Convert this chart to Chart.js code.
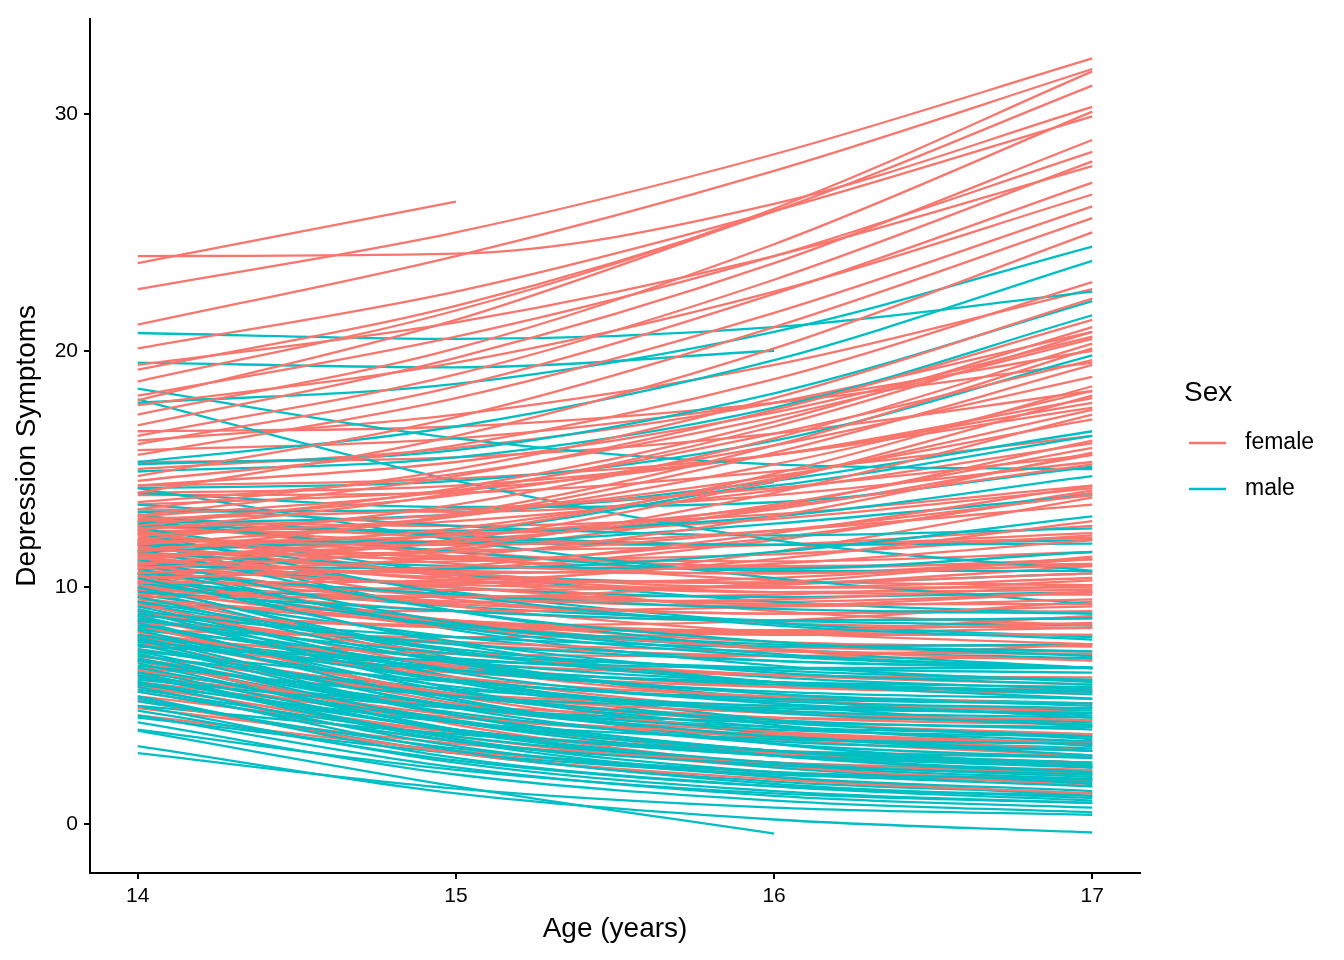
<!DOCTYPE html>
<html>
<head>
<meta charset="utf-8">
<script src="https://cdn.jsdelivr.net/npm/chart.js@4/dist/chart.umd.min.js"></script>
<style>
  html, body { margin: 0; padding: 0; background: #fff; }
  #wrap { width: 1344px; height: 960px; }
</style>
</head>
<body>
<div id="wrap"><canvas id="myChart" width="1344" height="960"></canvas></div>
<script>
const ages = [14, 15, 16, 17];
const xTicks = [14, 15, 16, 17];
const yTicks = [0, 10, 20, 30];
const sexLabels = ['female', 'male'];

// one row per girl: symptoms at 14, 15, 16, 17 (null = no estimate)
const femaleLines = [
  [23.7, 26.3, null, null],
  [24.0, 24.1, 26.2, 30.3],
  [22.6, 25.0, 28.3, 32.35],
  [21.1, 24.0, 27.6, 31.9],
  [18.7, 21.7, 26.0, 31.8],
  [19.2, 21.9, 25.9, 31.2],
  [17.3, 20.1, 24.5, 30.1],
  [20.1, 22.5, 25.9, 29.9],
  [16.85, 19.7, 23.7, 28.9],
  [18.1, 20.6, 24.0, 28.4],
  [16.4, 19.0, 23.0, 28.0],
  [19.4, 21.2, 24.0, 27.8],
  [16.05, 18.5, 22.4, 27.1],
  [17.7, 19.5, 22.5, 26.6],
  [15.6, 18.0, 21.6, 26.1],
  [14.7, 17.2, 21.0, 25.6],
  [14.0, 16.4, 20.1, 25.0],
  [17.9, 21.3, 25.9, null],
  [14.5, 16.0, 18.8, 22.9],
  [13.3, 15.0, 18.0, 22.2],
  [13.05, 14.7, 17.5, 21.3],
  [12.6, 14.2, 17.0, 21.0],
  [12.4, 14.0, 16.8, 20.8],
  [13.6, 14.8, 17.2, 20.5],
  [12.0, 13.5, 16.3, 20.3],
  [11.5, 13.1, 16.0, 20.1],
  [13.0, 14.1, 16.5, 19.6],
  [11.8, 13.0, 15.7, 19.4],
  [12.8, 13.9, 16.0, 18.9],
  [11.2, 12.3, 14.8, 18.5],
  [12.2, 13.0, 15.2, 18.3],
  [11.0, 12.0, 14.5, 18.1],
  [11.6, 12.5, 14.6, 17.5],
  [10.8, 11.7, 14.0, 17.3],
  [12.5, 13.1, 14.7, 17.1],
  [11.3, 11.9, 13.5, 15.9],
  [10.6, 11.3, 13.0, 15.7],
  [12.9, 13.3, 14.2, 15.6],
  [11.9, 12.2, 13.4, 15.2],
  [10.4, 10.9, 12.3, 14.3],
  [11.4, 11.5, 12.4, 13.9],
  [12.0, 11.8, 12.4, 13.5],
  [10.2, 10.3, 11.2, 12.8],
  [11.1, 10.6, 11.0, 12.0],
  [9.6, 9.6, 10.2, 11.3],
  [12.3, 11.0, 10.6, 10.95],
  [10.9, 10.1, 10.0, 10.4],
  [9.9, 9.4, 9.5, 10.1],
  [11.7, 10.6, 10.0, 10.0],
  [9.2, 9.0, 9.2, 9.8],
  [10.7, 9.6, 9.2, 9.5],
  [11.3, 10.0, 9.3, 9.3],
  [10.0, 9.0, 8.6, 8.7],
  [8.8, 8.3, 8.2, 8.5],
  [12.4, 10.4, 9.0, 8.4],
  [9.5, 8.6, 8.1, 8.0],
  [11.0, 9.2, 8.1, 7.6],
  [8.5, 7.7, 7.3, 7.2],
  [10.1, 8.5, 7.4, 6.9],
  [9.0, 7.2, 6.3, 5.9],
  [8.1, 6.2, 5.4, 5.1],
  [9.3, 6.6, 5.3, 4.7],
  [7.4, 5.5, 4.7, 4.4],
  [7.9, 5.5, 4.3, 3.8],
  [6.5, 4.6, 3.8, 3.4],
  [8.4, 5.4, 3.9, 3.1],
  [6.9, 4.3, 3.1, 2.5],
  [5.6, 3.5, 2.6, 2.1],
  [7.2, 4.2, 2.5, 1.6],
  [5.2, 3.0, 1.9, 1.3],
  [11.6, 11.2, 11.4, 12.2],
  [12.1, 11.6, 11.8, 12.6],
  [11.9, 11.3, 11.1, 11.5],
  [10.3, 9.9, 10.1, 10.9],
  [11.4, 10.3, 9.8, 9.9],
  [10.5, 9.4, 8.9, 9.0],
  [12.8, 12.6, 13.1, 14.3],
  [13.3, 13.2, 13.9, 15.3],
  [14.3, 14.6, 15.6, 17.6],
  [15.3, 15.5, 16.5, 18.3],
  [16.6, 16.8, 17.8, 19.5],
  [14.0, 14.3, 15.6, 17.8],
  [10.6, 10.8, 12.0, 14.1],
  [9.7, 10.1, 11.5, 13.8],
  [8.9, 8.4, 8.6, 9.4],
  [7.8, 7.2, 7.1, 7.6],
  [6.2, 5.0, 4.5, 4.4],
  [7.0, 4.9, 3.9, 3.4],
  [5.8, 3.9, 3.0, 2.6],
  [4.9, 3.4, 2.6, 2.3],
  [6.6, 5.5, 5.0, 4.9],
  [8.0, 6.8, 6.3, 6.2],
  [9.8, 8.6, 8.0, 8.0],
  [10.8, 10.2, 10.4, 11.2],
  [12.6, 11.9, 11.8, 12.3],
  [12.9, 12.1, 11.8, 12.1],
  [11.2, 10.4, 10.2, 10.6],
  [12.2, 11.2, 10.8, 11.2],
  [11.5, 10.7, 10.6, 11.2],
  [10.6, 9.7, 9.4, 9.8],
  [12.7, 11.5, 10.9, 11.0],
  [11.8, 10.5, 9.8, 9.7],
  [10.2, 9.3, 8.9, 9.2],
  [12.4, 12.3, 12.9, 14.2],
  [11.0, 11.1, 12.1, 14.0],
  [11.7, 12.0, 13.3, 15.6],
  [12.3, 12.8, 14.1, 16.1],
  [13.9, 14.0, 14.9, 16.4],
  [10.9, 11.6, 13.4, 16.2],
  [13.5, 14.1, 15.6, 18.0],
  [15.0, 15.9, 17.8, 20.8],
  [16.2, 17.3, 19.4, 22.6],
  [15.8, 16.3, 17.8, 20.0],
  [14.3, 15.3, 17.4, 20.6],
  [9.4, 8.5, 8.1, 8.3],
  [8.6, 7.6, 7.1, 7.0],
  [9.9, 8.3, 7.5, 7.3],
  [7.6, 6.4, 5.8, 5.7],
  [8.3, 6.7, 5.8, 5.5],
  [7.1, 5.4, 4.5, 4.2],
  [6.0, 4.5, 3.7, 3.5],
  [8.7, 6.2, 4.8, 4.2],
  [5.4, 3.9, 3.1, 2.9],
  [6.3, 4.3, 3.1, 2.6],
  [7.7, 5.1, 3.6, 2.9],
  [4.6, 3.1, 2.2, 1.9],
  [5.9, 3.7, 2.4, 1.8],
  [9.6, 7.3, 6.0, 5.6],
  [10.4, 8.6, 7.7, 7.5],
  [11.5, 9.5, 8.5, 8.3],
  [13.1, 11.3, 10.3, 10.1],
  [10.0, 9.6, 9.7, 10.3],
  [8.2, 7.9, 8.1, 8.8]
];

// one row per boy
const maleLines = [
  [3.3, 1.3, 0.2, -0.35],
  [3.95, 1.6, -0.4, null],
  [3.0, 1.5, 0.7, 0.4],
  [4.3, 2.1, 1.0, 0.5],
  [4.6, 2.4, 1.2, 0.7],
  [5.0, 2.6, 1.4, 0.9],
  [5.4, 2.8, 1.6, 1.0],
  [5.8, 3.1, 1.7, 1.1],
  [6.0, 3.3, 2.0, 1.4],
  [6.4, 3.6, 2.2, 1.6],
  [5.2, 3.2, 2.2, 1.9],
  [5.6, 3.5, 2.5, 2.1],
  [6.8, 4.0, 2.6, 2.0],
  [7.2, 4.3, 2.9, 2.2],
  [6.2, 4.0, 2.9, 2.4],
  [7.6, 4.6, 3.1, 2.5],
  [6.6, 4.3, 3.1, 2.6],
  [7.0, 4.7, 3.5, 3.1],
  [7.9, 4.9, 3.4, 2.8],
  [8.2, 5.2, 3.7, 3.1],
  [5.9, 4.3, 3.6, 3.4],
  [6.9, 5.0, 4.0, 3.7],
  [8.5, 5.6, 4.3, 3.7],
  [7.4, 5.4, 4.4, 4.0],
  [6.1, 4.9, 4.3, 4.1],
  [8.8, 6.0, 4.7, 4.2],
  [7.8, 5.8, 4.8, 4.5],
  [9.2, 6.4, 5.1, 4.6],
  [6.7, 5.4, 4.9, 4.7],
  [8.0, 6.1, 5.2, 4.9],
  [9.6, 6.8, 5.5, 5.0],
  [7.3, 6.0, 5.3, 5.1],
  [8.4, 6.5, 5.6, 5.3],
  [10.0, 7.3, 6.0, 5.5],
  [8.9, 6.9, 6.0, 5.6],
  [7.7, 6.5, 6.0, 5.8],
  [10.4, 7.7, 6.4, 5.9],
  [9.4, 7.4, 6.5, 6.1],
  [8.6, 7.2, 6.6, 6.4],
  [10.8, 8.3, 7.1, 6.6],
  [7.5, 6.9, 6.6, 6.6],
  [11.2, 8.5, 7.2, 6.6],
  [9.0, 7.6, 6.9, 6.6],
  [11.6, 9.0, 7.7, 7.1],
  [10.2, 8.4, 7.6, 7.3],
  [12.3, 9.7, 8.4, 7.8],
  [9.8, 9.0, 8.6, 8.7],
  [10.6, 9.7, 9.1, 8.9],
  [12.8, 11.5, 10.7, 10.7],
  [11.4, 10.9, 10.8, 11.5],
  [12.0, 11.9, 11.8, 11.85],
  [13.5, 12.6, 12.2, 12.5],
  [10.9, 10.8, 11.5, 13.0],
  [12.6, 12.4, 13.0, 14.7],
  [14.0, 13.4, 13.6, 15.1],
  [13.2, 13.3, 14.3, 16.4],
  [12.7, 13.1, 14.5, 16.6],
  [11.8, 11.9, 12.7, 13.9],
  [14.2, 14.5, 16.2, 19.8],
  [14.9, 15.5, 17.6, 21.5],
  [15.2, 15.8, 18.2, 22.1],
  [15.3, 16.8, 19.6, 23.8],
  [17.8, 18.6, 20.8, 24.4],
  [20.75, 20.5, 21.0, 22.5],
  [19.5, 19.3, 20.0, null],
  [18.4, 16.3, 15.2, 15.0],
  [17.95, 14.5, 12.0, 10.7],
  [14.2, 12.0, 10.4, 9.3],
  [11.5, 12.3, 14.45, null],
  [4.0, 2.3, 1.3, 0.9],
  [4.8, 2.7, 1.6, 1.2],
  [5.3, 3.0, 1.8, 1.3],
  [6.3, 3.5, 2.0, 1.2],
  [7.0, 4.0, 2.4, 1.7],
  [6.5, 3.9, 2.5, 1.9],
  [7.8, 4.6, 2.9, 2.1],
  [5.7, 3.7, 2.6, 2.2],
  [8.6, 5.3, 3.4, 2.4],
  [7.3, 4.6, 3.1, 2.4],
  [6.0, 4.0, 2.9, 2.5],
  [9.0, 5.7, 3.8, 2.9],
  [7.6, 5.0, 3.7, 3.2],
  [8.0, 5.5, 4.1, 3.5],
  [9.4, 6.2, 4.4, 3.6],
  [6.4, 4.9, 4.1, 3.8],
  [8.3, 6.0, 4.8, 4.3],
  [9.9, 6.9, 5.3, 4.5],
  [7.1, 5.7, 5.0, 4.8],
  [8.7, 6.6, 5.5, 5.1],
  [10.6, 7.6, 6.0, 5.3],
  [7.9, 6.6, 5.9, 5.6],
  [9.3, 7.3, 6.2, 5.7],
  [11.0, 8.2, 6.7, 6.0],
  [8.2, 7.0, 6.3, 6.1],
  [9.7, 7.9, 6.9, 6.6],
  [11.9, 9.0, 7.4, 6.6],
  [10.5, 8.5, 7.4, 7.0],
  [8.8, 7.9, 7.5, 7.6],
  [12.5, 10.6, 9.4, 8.9],
  [11.1, 10.0, 9.6, 9.8],
  [13.0, 12.2, 11.8, 12.0],
  [10.3, 9.2, 8.6, 8.4],
  [11.8, 9.8, 8.5, 7.9],
  [5.0, 3.8, 3.1, 2.8],
  [4.5, 3.0, 2.1, 1.8],
  [6.9, 4.4, 3.0, 2.4],
  [9.1, 6.0, 4.2, 3.3],
  [10.1, 7.0, 5.1, 4.1],
  [12.0, 10.6, 10.2, 10.6]
];

const colFemale = '#F8766D';
const colMale = '#00BFC4';
const fontFam = '"Liberation Sans", Arial, sans-serif';

function makeSet(row, sex, color) {
  return {
    label: sex,
    data: ages.map((a, i) => ({ x: a, y: row[i] })),
    borderColor: color,
    backgroundColor: color,
    borderWidth: 2.3,
    pointRadius: 0,
    fill: false,
    cubicInterpolationMode: 'monotone',
    spanGaps: false
  };
}

// interleave the two groups so the colours mix like the original
const datasets = [];
const n = Math.max(femaleLines.length, maleLines.length);
for (let i = 0; i < n; i++) {
  if (i < femaleLines.length) datasets.push(makeSet(femaleLines[i], sexLabels[0], colFemale));
  if (i < maleLines.length) datasets.push(makeSet(maleLines[i], sexLabels[1], colMale));
}

const legendBox = {
  id: 'legendBox',
  afterDraw(chart) {
    const c = chart.ctx;
    c.save();
    c.fillStyle = '#000';
    c.textBaseline = 'middle';
    c.font = '28px ' + fontFam;
    c.fillText('Sex', 1184, 393);
    const rows = [[sexLabels[0], colFemale, 443], [sexLabels[1], colMale, 489]];
    c.font = '23px ' + fontFam;
    rows.forEach(r => {
      c.strokeStyle = r[1];
      c.lineWidth = 2.3;
      c.beginPath();
      c.moveTo(1189, r[2]);
      c.lineTo(1226, r[2]);
      c.stroke();
      c.fillStyle = '#000';
      c.fillText(r[0], 1245, r[2]);
    });
    c.restore();
  }
};

const ctx = document.getElementById('myChart');

new Chart(ctx, {
  type: 'line',
  data: { datasets: datasets },
  options: {
    responsive: false,
    animation: false,
    layout: { padding: { top: 14, right: 204, left: 0, bottom: 0 } },
    plugins: { legend: { display: false }, tooltip: { enabled: false } },
    scales: {
      x: {
        type: 'linear',
        min: 13.85,
        max: 17.15,
        afterBuildTicks: s => { s.ticks = xTicks.map(v => ({ value: v })); },
        afterFit: s => { s.height = 87; },
        grid: { display: true, drawOnChartArea: false, drawTicks: true, tickLength: 6, color: '#000', lineWidth: 2 },
        border: { display: true, color: '#000', width: 2 },
        ticks: { color: '#000', padding: 5, font: { family: fontFam, size: 21 } },
        title: { display: true, text: 'Age (years)', color: '#000', padding: { top: 0, bottom: 14 },
                 font: { family: fontFam, size: 28, lineHeight: 1.2 } }
      },
      y: {
        type: 'linear',
        min: -2.06,
        max: 34.03,
        afterBuildTicks: s => { s.ticks = yTicks.map(v => ({ value: v })); },
        afterFit: s => { s.width = 90; },
        grid: { display: true, drawOnChartArea: false, drawTicks: true, tickLength: 6, color: '#000', lineWidth: 2 },
        border: { display: true, color: '#000', width: 2 },
        ticks: { color: '#000', padding: 6, font: { family: fontFam, size: 21 } },
        title: { display: true, text: 'Depression Symptoms', color: '#000', padding: { top: 10, bottom: 0 },
                 font: { family: fontFam, size: 28, lineHeight: 1.2 } }
      }
    }
  },
  plugins: [legendBox]
});
</script>
</body>
</html>
